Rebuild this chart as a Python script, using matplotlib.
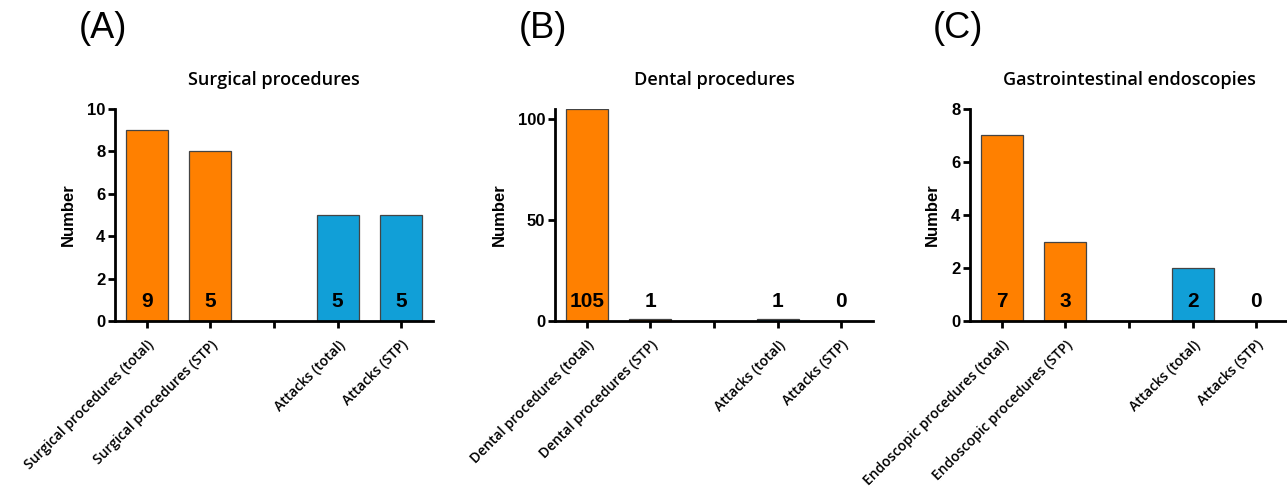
import matplotlib
matplotlib.use("Agg")
import matplotlib.pyplot as plt
import matplotlib.transforms as mtransforms

# Data
panel_letters = ["(A)", "(B)", "(C)"]
titles = ["Surgical procedures", "Dental procedures", "Gastrointestinal endoscopies"]
cats_A = ["Surgical procedures (total)", "Surgical procedures (STP)", "", "Attacks (total)", "Attacks (STP)"]
cats_B = ["Dental procedures (total)", "Dental procedures (STP)", "", "Attacks (total)", "Attacks (STP)"]
cats_C = ["Endoscopic procedures (total)", "Endoscopic procedures (STP)", "", "Attacks (total)", "Attacks (STP)"]
vals_A = [9, 8, 0, 5, 5]
vals_B = [105, 1, 0, 1, 0]
vals_C = [7, 3, 0, 2, 0]
labels_A = ["9", "5", "", "5", "5"]
labels_B = ["105", "1", "", "1", "0"]
labels_C = ["7", "3", "", "2", "0"]
yticks_A = [0, 2, 4, 6, 8, 10]
yticks_B = [0, 50, 100]
yticks_C = [0, 2, 4, 6, 8]
ylims = [10, 105, 8]

colors = ["#FF8000", "#FF8000", "#FFFFFF", "#119FD7", "#119FD7"]

W, H = 1287, 490
fig = plt.figure(figsize=(W / 100, H / 100), dpi=100)

lefts = [115, 555, 970]
width = 318
bottom_px, top_px = 321, 109

panels = [
    (cats_A, vals_A, labels_A, yticks_A),
    (cats_B, vals_B, labels_B, yticks_B),
    (cats_C, vals_C, labels_C, yticks_C),
]

for i, (cats, vals, labs, yt) in enumerate(panels):
    l = lefts[i]
    ax = fig.add_axes([l / W, 1 - bottom_px / H, width / W, (bottom_px - top_px) / H])
    x = list(range(len(cats)))
    ax.bar(x, vals, width=0.66, color=colors, edgecolor="#444444", linewidth=0.9, zorder=2)
    ax.set_xlim(-0.5, 4.5)
    ax.set_ylim(0, ylims[i])
    ax.set_yticks(yt)
    ax.set_yticklabels([str(t) for t in yt], fontfamily="Liberation Sans",
                       fontweight="bold", fontsize=12)
    ax.set_xticks(x)
    ax.set_xticklabels(cats, rotation=45, ha="right", va="top", rotation_mode="anchor",
                       fontfamily="Open Sans", fontweight="semibold", fontsize=10)
    for s in ["top", "right"]:
        ax.spines[s].set_visible(False)
    for s in ["left", "bottom"]:
        ax.spines[s].set_linewidth(2)
        ax.spines[s].set_color("black")
    ax.tick_params(axis="both", direction="out", length=5, width=2, pad=2)
    ax.tick_params(axis="x", pad=7)
    ax.set_ylabel("Number", fontfamily="Liberation Sans", fontweight="bold", fontsize=12, labelpad=8)
    trans = mtransforms.blended_transform_factory(ax.transData, ax.transAxes)
    for xi, lab in zip(x, labs):
        if lab:
            ax.text(xi, 0.09, lab, transform=trans, ha="center", va="center",
                    fontfamily="Liberation Sans", fontweight="bold", fontsize=15, zorder=3)
    ax.set_title(titles[i], fontfamily="Open Sans", fontweight="semibold", fontsize=13, pad=17)
    fig.text((l - 12) / W, 1 - 29 / H, panel_letters[i], ha="center", va="center",
             fontfamily="Liberation Sans", fontsize=26)

fig.savefig("out.png", dpi=100)
